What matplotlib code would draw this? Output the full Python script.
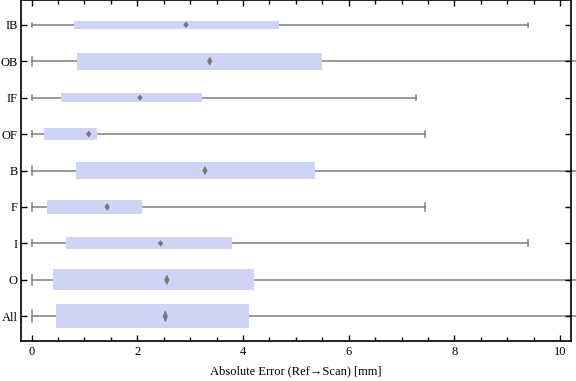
import matplotlib as mpl
import matplotlib.pyplot as plt
import matplotlib.ticker as ticker
from matplotlib.patches import Rectangle, Polygon

mpl.rcParams['font.family'] = ['Liberation Serif', 'DejaVu Serif']
mpl.rcParams['font.size'] = 9

# Groups from bottom to top
groups = ['All', 'O', 'I', 'F', 'B', 'OF', 'IF', 'OB', 'IB']
q1 = [0.46, 0.40, 0.65, 0.29, 0.84, 0.23, 0.55, 0.86, 0.80]
median = [2.53, 2.56, 2.44, 1.43, 3.28, 1.08, 2.05, 3.37, 2.92]
q3 = [4.11, 4.21, 3.79, 2.09, 5.36, 1.24, 3.22, 5.49, 4.68]
lo = [0, 0, 0, 0, 0, 0, 0, 0, 0]
hi = [15.2, 15.2, 9.39, 7.45, 14.8, 7.45, 7.28, 13.5, 9.39]
# box thickness (relative group size)
thick = [0.66, 0.57, 0.33, 0.41, 0.49, 0.35, 0.24, 0.47, 0.22]

box_color = '#cdd4f5'
line_color = '#808080'

fig = plt.figure(figsize=(5.76, 3.81), dpi=100)
ax = fig.add_axes([0.0356, 0.1058, 0.956, 0.8932])

for i, g in enumerate(groups):
    y = i + 1
    h = thick[i]
    ax.plot([lo[i], hi[i]], [y, y], color=line_color, lw=1.1, zorder=1, clip_on=False)
    if hi[i] < 10.2:
        ax.plot([hi[i], hi[i]], [y - h / 4, y + h / 4], color=line_color, lw=1.1, zorder=1)
    ax.plot([lo[i], lo[i]], [y - h / 4, y + h / 4], color=line_color, lw=1.1, zorder=1)
    ax.add_patch(Rectangle((q1[i], y - h / 2), q3[i] - q1[i], h,
                           facecolor=box_color, edgecolor='none', zorder=2))
    dw = 0.04
    dh = max(h * 0.22, 0.07)
    m = median[i]
    ax.add_patch(Polygon([[m - dw, y], [m, y + dh], [m + dw, y], [m, y - dh]],
                         closed=True, facecolor='#777777', edgecolor='#777777',
                         lw=0.6, zorder=3))

ax.set_xlim(-0.21, 10.21)
ax.set_ylim(0.33, 9.67)
ax.set_yticks(range(1, len(groups) + 1))
ax.set_yticklabels(groups)
ax.xaxis.set_major_locator(ticker.MultipleLocator(2))
ax.xaxis.set_minor_locator(ticker.MultipleLocator(0.5))
ax.tick_params(which='both', direction='in', top=True, right=True, width=1, color='black')
ax.tick_params(which='major', length=4)
ax.tick_params(which='minor', length=3)
ax.tick_params(axis='x', which='major', pad=4)
ax.tick_params(axis='y', which='major', pad=2)
ax.tick_params(axis='y', which='minor', left=False, right=False)
for s in ax.spines.values():
    s.set_linewidth(1.2)
ax.set_xlabel('Absolute Error (Ref\u2192Scan) [mm]', labelpad=5)

plt.savefig('out.png', dpi=100)
